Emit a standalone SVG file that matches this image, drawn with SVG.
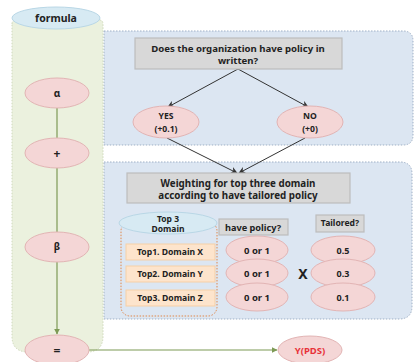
<svg xmlns="http://www.w3.org/2000/svg" width="415" height="362" viewBox="0 0 415 362">
<style>
text{font-family:"Noto Sans","Open Sans","DejaVu Sans",sans-serif;font-weight:bold;fill:#222;text-anchor:middle;dominant-baseline:central}
.pink{fill:#f4d6d6;stroke:#e2b4b4;stroke-width:1}
.gray{fill:#d8d8d8;stroke:#bdbdbd;stroke-width:1.2}
.orange{fill:#fde4cc;stroke:#f6cfa6;stroke-width:1}
.blk{stroke:#333;stroke-width:1;fill:none;marker-end:url(#ah)}
.grn{stroke:#7d9a55;stroke-width:1.2;fill:none;marker-end:url(#ag)}
</style>
<defs>
<marker id="ah" viewBox="0 0 10 10" refX="9" refY="5" markerWidth="7" markerHeight="7" orient="auto"><path d="M0,0 L10,5 L0,10 L3,5 z" fill="#333"/></marker>
<marker id="ag" viewBox="0 0 10 10" refX="9" refY="5" markerWidth="5" markerHeight="5" orient="auto"><path d="M0,0 L10,5 L0,10 z" fill="#7d9a55"/></marker>
</defs>
<rect width="415" height="362" fill="#fff"/>
<g id="panel-top"><path d="M104,31 H403 Q413,31 413,41 V135 Q413,145 403,145 H104 Z" fill="#dce6f2" stroke="#9fb0c6" stroke-dasharray="1.5,1.5"/></g>
<g id="panel-bottom"><path d="M104,162 H400 Q412,162 412,174 V306 Q412,319 399,319 H104 Z" fill="#dce6f2" stroke="#9fb0c6" stroke-dasharray="1.5,1.5"/></g>
<g id="formula-column"><path d="M12,24 Q12,20 16,20 H99 Q103,20 103,24 V336 Q103,352 87,352 H28 Q12,352 12,336 Z" fill="#ebf1de" stroke="#cfd9bb" stroke-dasharray="1.5,1.5"/></g>
<g id="connectors">
<line class="grn" x1="57" y1="108" x2="57" y2="334"/>
<line class="grn" x1="89" y1="350" x2="277" y2="350"/>
<line class="blk" x1="238" y1="69" x2="168" y2="107"/>
<line class="blk" x1="238" y1="69" x2="308" y2="107"/>
<line class="blk" x1="167" y1="138" x2="237" y2="173"/>
<line class="blk" x1="305" y1="138" x2="239" y2="173"/>
</g>
<g id="formula"><ellipse cx="56" cy="18" rx="44" ry="11" fill="#d7eaf3" stroke="#b9d7e6"/><text x="56" y="18" font-size="10.5">formula</text></g>
<g id="alpha"><ellipse class="pink" cx="57" cy="93" rx="32" ry="15"/><text x="57" y="93" font-size="10">α</text></g>
<g id="plus"><ellipse class="pink" cx="57" cy="153" rx="32" ry="15"/><text x="57" y="153" font-size="12">+</text></g>
<g id="beta"><ellipse class="pink" cx="57" cy="247" rx="32" ry="15"/><text x="57" y="246" font-size="10">β</text></g>
<g id="equals"><ellipse class="pink" cx="57" cy="350" rx="32" ry="15"/><text x="57" y="350" font-size="12">=</text></g>
<g id="ypds"><ellipse class="pink" cx="310" cy="350" rx="32" ry="14"/><text x="310" y="350" font-size="9.5" style="fill:#e8323a">Y(PDS)</text></g>
<g id="question"><rect class="gray" x="135" y="38" width="207" height="31"/><text x="238" y="48" font-size="9.6">Does the organization have policy in</text><text x="238" y="60" font-size="9.6">written?</text></g>
<g id="yes"><ellipse class="pink" cx="166" cy="122" rx="33" ry="16"/><text x="166" y="115.5" font-size="8.6">YES</text><text x="166" y="128.5" font-size="8.6">(+0.1)</text></g>
<g id="no"><ellipse class="pink" cx="310" cy="122" rx="33" ry="16"/><text x="310" y="115.5" font-size="8.6">NO</text><text x="310" y="128.5" font-size="8.6">(+0)</text></g>
<g id="weighting"><rect class="gray" x="127" y="173" width="223" height="30"/><text x="238" y="183" font-size="9.8">Weighting for top three domain</text><text x="238" y="195.5" font-size="9.8">according to have tailored policy</text></g>
<g id="top3-group"><rect x="121" y="222" width="96" height="94" rx="9" fill="none" stroke="#e0874a" stroke-dasharray="1.5,1.5"/></g>
<g id="top3-domain"><ellipse cx="168" cy="223" rx="49" ry="11" fill="#d7eaf3" stroke="#b9d7e6"/><text x="168" y="218" font-size="8.5">Top 3</text><text x="168" y="228" font-size="8.5">Domain</text></g>
<g id="top1"><rect class="orange" x="126" y="244" width="89" height="16"/><text x="170" y="252" font-size="8.6">Top1. Domain X</text></g>
<g id="top2"><rect class="orange" x="126" y="266" width="89" height="16"/><text x="170" y="274" font-size="8.6">Top2. Domain Y</text></g>
<g id="top3"><rect class="orange" x="126" y="290" width="89" height="16"/><text x="170" y="298" font-size="8.6">Top3. Domain Z</text></g>
<g id="have-policy"><rect class="gray" x="219" y="219" width="69" height="16"/><text x="253" y="227" font-size="9.2">have policy?</text></g>
<g id="tailored"><rect class="gray" x="316" y="215" width="48" height="17"/><text x="340" y="223" font-size="8.6">Tailored?</text></g>
<g id="p1"><ellipse class="pink" cx="257" cy="250" rx="31" ry="14"/><text x="257" y="250" font-size="9.5">0 or 1</text></g>
<g id="p2"><ellipse class="pink" cx="257" cy="273" rx="31" ry="14"/><text x="257" y="273" font-size="9.5">0 or 1</text></g>
<g id="p3"><ellipse class="pink" cx="257" cy="297" rx="31" ry="14"/><text x="257" y="297" font-size="9.5">0 or 1</text></g>
<g id="times"><text x="303" y="273" font-size="14">X</text></g>
<g id="t1"><ellipse class="pink" cx="343" cy="250" rx="32" ry="14"/><text x="343" y="250" font-size="9">0.5</text></g>
<g id="t2"><ellipse class="pink" cx="343" cy="273" rx="32" ry="14"/><text x="343" y="273" font-size="9">0.3</text></g>
<g id="t3"><ellipse class="pink" cx="343" cy="297" rx="32" ry="14"/><text x="343" y="297" font-size="9">0.1</text></g>
</svg>
